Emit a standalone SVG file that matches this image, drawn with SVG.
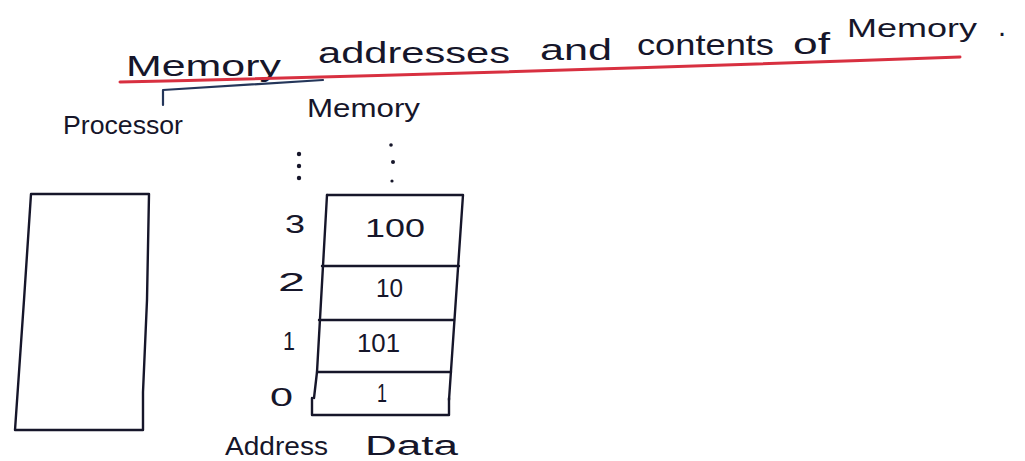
<svg xmlns="http://www.w3.org/2000/svg" width="1025" height="461" viewBox="0 0 1025 461">
  <style>
    .ink { fill: none; stroke: #16162a; stroke-width: 2.4; stroke-linecap: round; stroke-linejoin: round; }
    .txt { font-family: "Liberation Sans", "DejaVu Sans", sans-serif; fill: #16162a; }
    .title { font-size: 29px; }
    .label { font-size: 25px; }
    .num { font-size: 26px; }
    .dot { fill: #16162a; }
  </style>
  <rect width="1025" height="461" fill="#ffffff"/>

  <!-- heading with red underline -->
  <g id="title">
    <text class="txt title" x="126" y="76" textLength="155" lengthAdjust="spacingAndGlyphs">Memory</text>
    <text class="txt title" x="318" y="63" textLength="192" lengthAdjust="spacingAndGlyphs">addresses</text>
    <text class="txt title" x="540" y="60" textLength="72" lengthAdjust="spacingAndGlyphs">and</text>
    <text class="txt title" x="637" y="55" textLength="137" lengthAdjust="spacingAndGlyphs">contents</text>
    <text class="txt title" x="793" y="54" textLength="37" lengthAdjust="spacingAndGlyphs">of</text>
    <text class="txt" x="847" y="37" font-size="25" textLength="130" lengthAdjust="spacingAndGlyphs">Memory</text>
    <text class="txt title" x="998" y="36">.</text>
    <path d="M120,82 Q540,72 960,57" fill="none" stroke="#d83040" stroke-width="3" stroke-linecap="round"/>
  </g>

  <!-- bracket linking the two labels -->
  <g id="connectors">
    <path d="M163,105 L163,90 L323,80" fill="none" stroke="#24365a" stroke-width="2.2" stroke-linecap="round" stroke-linejoin="round"/>
  </g>

  <!-- processor block -->
  <g id="processor">
    <text class="txt label" x="63" y="134" textLength="120" lengthAdjust="spacingAndGlyphs">Processor</text>
    <path class="ink" d="M31,194 L149,194 L147,300 L143,392 L143,430 L15,430 L24,300 L31,194 Z"/>
  </g>

  <!-- memory table -->
  <g id="memory">
    <text class="txt label" x="307" y="117" textLength="113" lengthAdjust="spacingAndGlyphs">Memory</text>
    <!-- continuation dots -->
    <circle class="dot" cx="299" cy="154" r="2.2"/>
    <circle class="dot" cx="299" cy="166" r="2.2"/>
    <circle class="dot" cx="299" cy="178" r="2.2"/>
    <circle class="dot" cx="391" cy="145" r="1.8"/>
    <circle class="dot" cx="393" cy="162" r="2"/>
    <circle class="dot" cx="392" cy="181" r="1.6"/>
    <!-- cells -->
    <path class="ink" d="M327,195 L463,195 L449,400"/>
    <path class="ink" d="M327,195 L317,372 L314,398"/>
    <path class="ink" d="M322,266 L459,266"/>
    <path class="ink" d="M319,320 L454,320"/>
    <path class="ink" d="M317,372 L451,372"/>
    <path class="ink" d="M312,398 L312,415 L449,415 L449,398"/>
    <!-- addresses -->
    <text class="txt num" x="285" y="233" textLength="20" lengthAdjust="spacingAndGlyphs">3</text>
    <text class="txt num" x="278" y="291" textLength="27" lengthAdjust="spacingAndGlyphs">2</text>
    <text class="txt num" x="283" y="350" textLength="12" lengthAdjust="spacingAndGlyphs">1</text>
    <text class="txt num" x="270" y="406" textLength="23" lengthAdjust="spacingAndGlyphs">0</text>
    <!-- data -->
    <text class="txt num" x="365" y="237" textLength="60" lengthAdjust="spacingAndGlyphs">100</text>
    <text class="txt num" x="376" y="297" textLength="27" lengthAdjust="spacingAndGlyphs">10</text>
    <text class="txt num" x="357" y="352" textLength="43" lengthAdjust="spacingAndGlyphs">101</text>
    <text class="txt num" x="377" y="402" textLength="10" lengthAdjust="spacingAndGlyphs">1</text>
    <!-- column captions -->
    <text class="txt label" x="225" y="455" textLength="103" lengthAdjust="spacingAndGlyphs">Address</text>
    <text class="txt" x="365" y="455" font-size="27" textLength="93" lengthAdjust="spacingAndGlyphs">Data</text>
  </g>
</svg>
